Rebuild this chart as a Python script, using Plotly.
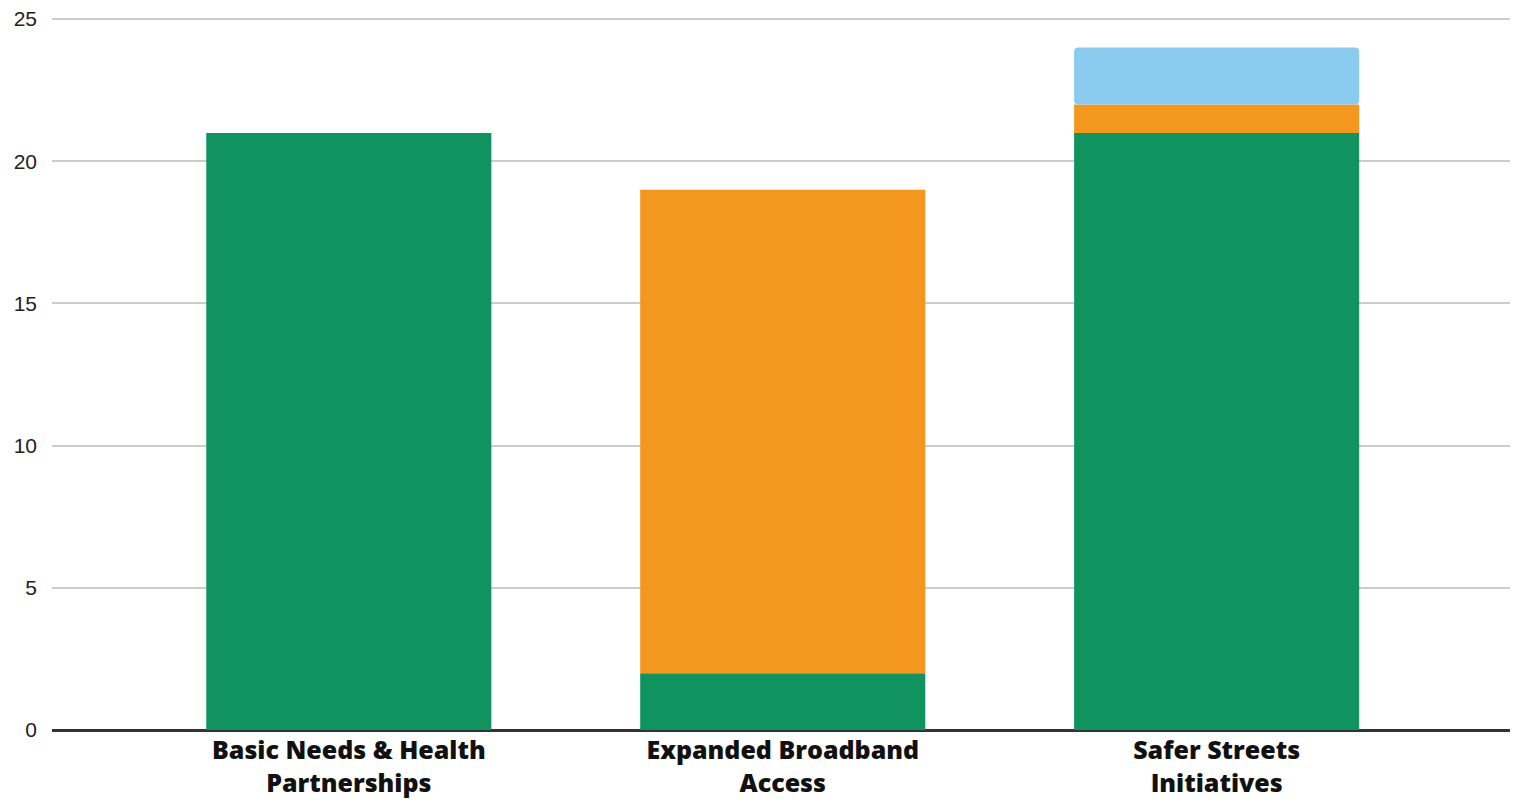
import plotly.graph_objects as go

categories = ["Basic Needs & Health<br>Partnerships", "Expanded Broadband<br>Access", "Safer Streets<br>Initiatives"]
green_vals = [21, 2, 21]
orange_vals = [0, 17, 1]
blue_vals = [0, 0, 2]
y_ticks = [0, 5, 10, 15, 20, 25]

orange_base = list(green_vals)
blue_base = [g + o for g, o in zip(green_vals, orange_vals)]

fig = go.Figure()
fig.add_trace(go.Bar(x=categories, y=green_vals, base=[0, 0, 0],
                     marker=dict(color="#10935F", line=dict(width=0)), name="A"))
fig.add_trace(go.Bar(x=categories, y=orange_vals, base=orange_base,
                     marker=dict(color="#F4971F", line=dict(width=0)), name="B"))
fig.add_trace(go.Bar(x=categories, y=blue_vals, base=blue_base,
                     marker=dict(color="#8ACBEF", line=dict(width=0), cornerradius=4), name="C"))

fig.update_layout(
    barmode="overlay",
    bargap=0.343,
    width=1520, height=802,
    margin=dict(l=52, r=10, t=18, b=72),
    plot_bgcolor="white", paper_bgcolor="white",
    showlegend=False,
    xaxis=dict(range=[-0.684, 2.676], showgrid=False, showline=False, ticks="",
               automargin=False, ticklabelstandoff=3,
               tickfont=dict(family="Open Sans", size=25, color="#111", weight=800)),
    yaxis=dict(range=[0, 25.04], tickvals=y_ticks, gridcolor="#cccccc", gridwidth=2,
               zeroline=True, zerolinecolor="#333333", zerolinewidth=3,
               showline=False, ticks="", ticklabelstandoff=14, automargin=False,
               tickfont=dict(family="Liberation Sans", size=21, color="#222")),
)
fig.write_html("out.html", config={"displayModeBar": False},
               post_script="document.body.style.margin='0';document.body.style.overflow='hidden';")
